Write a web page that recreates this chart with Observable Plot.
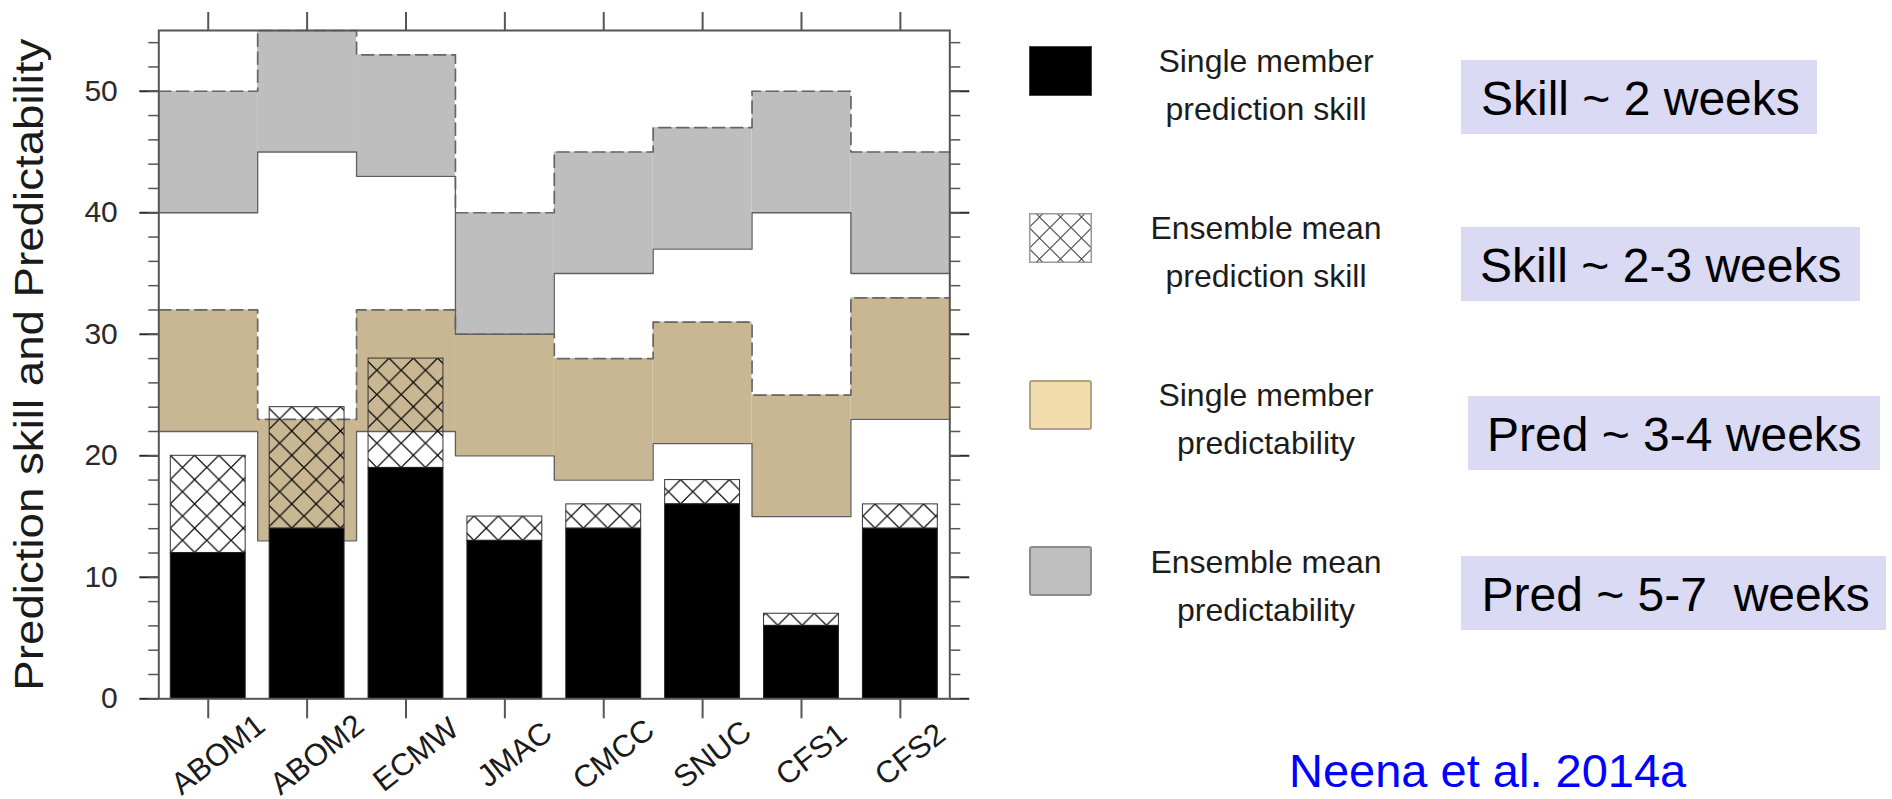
<!DOCTYPE html>
<html><head><meta charset="utf-8">
<script src="https://cdn.jsdelivr.net/npm/d3@7"></script>
<script src="https://cdn.jsdelivr.net/npm/@observablehq/plot@0.6"></script>
<style>
body{margin:0;background:#fff;width:1892px;height:799px;position:relative;overflow:hidden;font-family:"Liberation Sans",Arial,Helvetica,sans-serif;}
#chart{position:absolute;left:0;top:0;}
.sw{position:absolute;left:1029px;width:63px;height:50px;box-sizing:border-box;}
.lt{position:absolute;width:300px;left:1116px;text-align:center;font-size:32px;color:#1c1c1c;line-height:48px;white-space:nowrap;}
.box{position:absolute;background:#dadaf4;font-size:48px;color:#000;box-sizing:border-box;line-height:78px;height:73.5px;white-space:pre;overflow:visible;}
#cite{position:absolute;left:1289px;top:747px;font-size:47px;line-height:47px;color:#0000ff;white-space:nowrap;}
</style></head>
<body>
<div id="chart"></div>
<div id="legend"></div>
<div id="cite">Neena et al. 2014a</div>
<script>
const models = ["ABOM1","ABOM2","ECMW","JMAC","CMCC","SNUC","CFS1","CFS2"];
const singleSkill = [12,14,19,13,14,16,6,14];
const ensembleSkill = [20,24,28,15,16,18,7,16];
const singlePredLow = [22,13,22,20,18,21,15,23];
const singlePredHigh = [32,23,32,30,28,31,25,33];
const ensemblePredLow = [40,45,43,30,35,37,40,35];
const ensemblePredHigh = [50,55,53,40,45,47,50,45];
const yMajorTicks = [0,10,20,30,40,50];
const yMinorTicks = [0,2,4,6,8,10,12,14,16,18,20,22,24,26,28,30,32,34,36,38,40,42,44,46,48,50,52,54];
const yTitle = "Prediction skill and Predictability";
const legendLabels = [["Single member","prediction skill"],["Ensemble mean","prediction skill"],["Single member","predictability"],["Ensemble mean","predictability"]];
const boxTexts = ["Skill ~ 2 weeks","Skill ~ 2-3 weeks","Pred ~ 3-4 weeks","Pred ~ 5-7  weeks"];

const rows = models.map((m, i) => ({
  model: m, i,
  sSkill: singleSkill[i], eSkill: ensembleSkill[i],
  spLo: singlePredLow[i], spHi: singlePredHigh[i],
  epLo: ensemblePredLow[i], epHi: ensemblePredHigh[i]
}));
const step = arr => [...arr.map((v, i) => ({x: i, y: v})), {x: arr.length, y: arr[arr.length - 1]}];
const centers = rows.map(d => d.i + 0.5);

const TAN = "#c9b793", GREY = "#bebebe", EDGE = "#606060";
const blank = () => "";

const chart = Plot.plot({
  width: 1000, height: 799,
  marginLeft: 158.3, marginRight: 50.7, marginTop: 30, marginBottom: 100.7,
  style: {fontFamily: "'Liberation Sans', Arial, Helvetica, sans-serif", background: "white", overflow: "visible"},
  x: {domain: [0, models.length]},
  y: {domain: [0, 55]},
  marks: [
    Plot.rect(rows, {x1: "i", x2: d => d.i + 1, y1: "epLo", y2: "epHi", fill: GREY}),
    Plot.rect(rows, {x1: "i", x2: d => d.i + 1, y1: "spLo", y2: "spHi", fill: TAN}),
    Plot.line(step(ensemblePredHigh), {x: "x", y: "y", curve: "step-after", stroke: "#666", strokeWidth: 1.7, strokeDasharray: "12,6"}),
    Plot.line(step(singlePredHigh), {x: "x", y: "y", curve: "step-after", stroke: "#666", strokeWidth: 1.7, strokeDasharray: "12,6"}),
    Plot.line(step(ensemblePredLow), {x: "x", y: "y", curve: "step-after", stroke: EDGE, strokeWidth: 1.3}),
    Plot.line(step(singlePredLow), {x: "x", y: "y", curve: "step-after", stroke: EDGE, strokeWidth: 1.3}),
    Plot.rect(rows, {x1: "i", x2: d => d.i + 1, y1: "sSkill", y2: "eSkill", fill: "url(#xhatch)", stroke: "#333", strokeWidth: 1, insetLeft: 12, insetRight: 12}),
    Plot.rectY(rows, {x1: "i", x2: d => d.i + 1, y: "sSkill", fill: "#000", stroke: "#222", strokeWidth: 1, insetLeft: 12, insetRight: 12}),
    Plot.axisY(yMajorTicks, {anchor: "left", tickSize: 19, tickPadding: 22, fontSize: 30, color: "#2a2a2a", strokeWidth: 2, label: null}),
    Plot.axisY(yMinorTicks, {anchor: "left", tickSize: 10, tickFormat: blank, color: "#555", strokeWidth: 1.5, label: null}),
    Plot.axisY(yMajorTicks, {anchor: "right", tickSize: 19, tickFormat: blank, color: "#2a2a2a", strokeWidth: 2, label: null}),
    Plot.axisY(yMinorTicks, {anchor: "right", tickSize: 10, tickFormat: blank, color: "#555", strokeWidth: 1.5, label: null}),
    Plot.axisX(centers, {anchor: "top", tickSize: 19, tickFormat: blank, color: "#555", strokeWidth: 2, label: null}),
    Plot.axisX(centers, {anchor: "bottom", tickSize: 20, tickFormat: blank, color: "#555", strokeWidth: 2, label: null}),
    Plot.text(rows, {x: d => d.i + 0.5, text: "model", frameAnchor: "bottom", dx: 10, dy: 56, rotate: -38, textAnchor: "middle", lineAnchor: "middle", fontSize: 31, fill: "#1a1a1a"}),
    Plot.text([yTitle], {frameAnchor: "left", dx: -115.6, rotate: -90, textAnchor: "middle", lineAnchor: "bottom", fontSize: 40, fill: "#1a1a1a"}),
    Plot.frame({stroke: "#555", strokeWidth: 2})
  ]
});
document.getElementById("chart").appendChild(chart);

// hatch pattern aligned to the y scale
const ys = chart.scale("y");
const P = ys.apply(0) - ys.apply(2);
const y0 = ys.apply(0);
const svg = d3.select(chart);
svg.insert("defs", ":first-child").html(
  `<pattern id="xhatch" patternUnits="userSpaceOnUse" width="${P}" height="${P}" patternTransform="translate(${158.3 + 12 + P/2},${y0})">
     <path d="M0,${P/2} L${P/2},0 L${P},${P/2} L${P/2},${P} Z" fill="none" stroke="#000" stroke-width="1.2"/>
   </pattern>`);
svg.selectAll("text").filter(function() { return this.textContent === yTitle; })
  .attr("textLength", 652).attr("lengthAdjust", "spacingAndGlyphs");

// legend
const legend = document.getElementById("legend");
const swatches = [
  `<div class="sw" style="top:46px;background:#000;border:1px solid #444"></div>`,
  `<svg class="sw" style="top:213px" width="63" height="50"><defs><pattern id="lhatch" patternUnits="userSpaceOnUse" width="21" height="21" x="0" y="4"><path d="M0,10.5 L10.5,0 L21,10.5 L10.5,21 Z" fill="none" stroke="#555" stroke-width="1.1"/></pattern></defs><rect x="0.75" y="0.75" width="61.5" height="48.5" fill="url(#lhatch)" stroke="#9a9a9a" stroke-width="1.5"/></svg>`,
  `<div class="sw" style="top:380px;background:#f2dcab;border:2px solid #b3a27f;border-radius:3px"></div>`,
  `<div class="sw" style="top:546px;background:#bfbfbf;border:2px solid #8c8c8c;border-radius:3px"></div>`
];
legend.innerHTML = swatches.join("") +
  legendLabels.map((l, k) => `<div class="lt" style="top:${36.6 + 167 * k}px">${l[0]}<br>${l[1]}</div>`).join("");
const boxGeom = [[1461, 60, 356, 20], [1461, 227.3, 398.6, 19], [1467.5, 396, 412.5, 19.5], [1461, 556, 425, 20.5]];
boxTexts.forEach((t, k) => {
  const d = document.createElement("div");
  d.className = "box";
  const [l, tp, w, pl] = boxGeom[k];
  d.style.left = l + "px"; d.style.top = tp + "px"; d.style.width = w + "px"; d.style.paddingLeft = pl + "px";
  d.textContent = t;
  legend.appendChild(d);
});
</script>
</body></html>
